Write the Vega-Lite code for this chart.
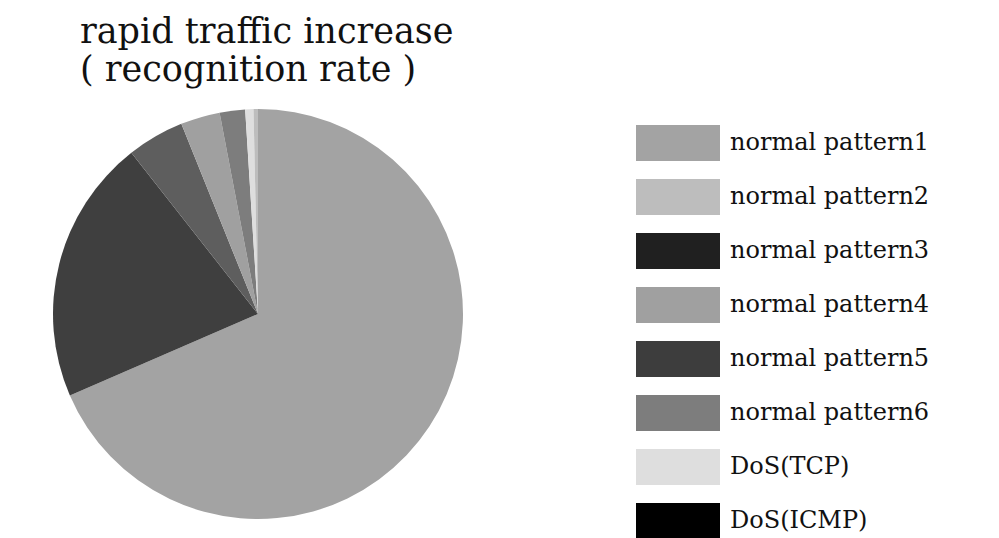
{
  "$schema": "https://vega.github.io/schema/vega-lite/v6.json",
  "autosize": "none",
  "width": 516,
  "height": 428,
  "padding": {"left": 0, "top": 100, "right": 483, "bottom": 10},
  "background": "white",
  "title": {
    "text": ["rapid traffic increase", "( recognition rate )"],
    "anchor": "start",
    "dx": 80,
    "offset": 12,
    "font": "DejaVu Serif",
    "fontSize": 35,
    "fontWeight": "normal",
    "color": "#111111",
    "lineHeight": 38
  },
  "data": {
    "values": [
      {"category": "normal pattern1", "rate": 68.5, "order": 1},
      {"category": "normal pattern5", "rate": 20.9, "order": 2},
      {"category": "normal pattern3", "rate": 4.5, "order": 3},
      {"category": "normal pattern4", "rate": 3.1, "order": 4},
      {"category": "normal pattern6", "rate": 2.0, "order": 5},
      {"category": "DoS(TCP)", "rate": 0.65, "order": 6},
      {"category": "normal pattern2", "rate": 0.35, "order": 7},
      {"category": "DoS(ICMP)", "rate": 0, "order": 8}
    ]
  },
  "layer": [
    {
      "mark": {"type": "arc", "outerRadius": 205},
      "encoding": {
        "theta": {"field": "rate", "type": "quantitative", "stack": true},
        "order": {"field": "order", "type": "quantitative"},
        "color": {
          "field": "category",
          "type": "nominal",
          "legend": null,
          "scale": {
            "domain": ["normal pattern1", "normal pattern2", "normal pattern3", "normal pattern4", "normal pattern5", "normal pattern6", "DoS(TCP)", "DoS(ICMP)"],
            "range": ["#a3a3a3", "#bdbdbd", "#5e5e5e", "#a0a0a0", "#3f3f3f", "#7d7d7d", "#dedede", "#000000"]
          }
        }
      }
    },
    {
      "mark": {"type": "arc", "outerRadius": 205, "opacity": 0},
      "encoding": {
        "theta": {"field": "rate", "type": "quantitative", "stack": true},
        "order": {"field": "order", "type": "quantitative"},
        "color": {
          "field": "category",
          "type": "nominal",
          "scale": {
            "domain": ["normal pattern1", "normal pattern2", "normal pattern3", "normal pattern4", "normal pattern5", "normal pattern6", "DoS(TCP)", "DoS(ICMP)"],
            "range": ["#a3a3a3", "#bdbdbd", "#202020", "#a0a0a0", "#3d3d3d", "#7d7d7d", "#dedede", "#000000"]
          },
          "legend": {
            "title": null,
            "orient": "none",
            "legendX": 636,
            "legendY": 16,
            "symbolType": "M-1,-0.43H1V0.43H-1Z",
            "symbolSize": 7056,
            "symbolStrokeWidth": 0,
            "symbolOpacity": 1,
            "labelFont": "DejaVu Serif",
            "labelFontSize": 24,
            "labelColor": "#111111",
            "labelOffset": 10,
            "labelLimit": 300,
            "clipHeight": 54,
            "rowPadding": 0
          }
        }
      }
    }
  ],
  "resolve": {"scale": {"color": "independent"}},
  "config": {"view": {"stroke": null}}
}
